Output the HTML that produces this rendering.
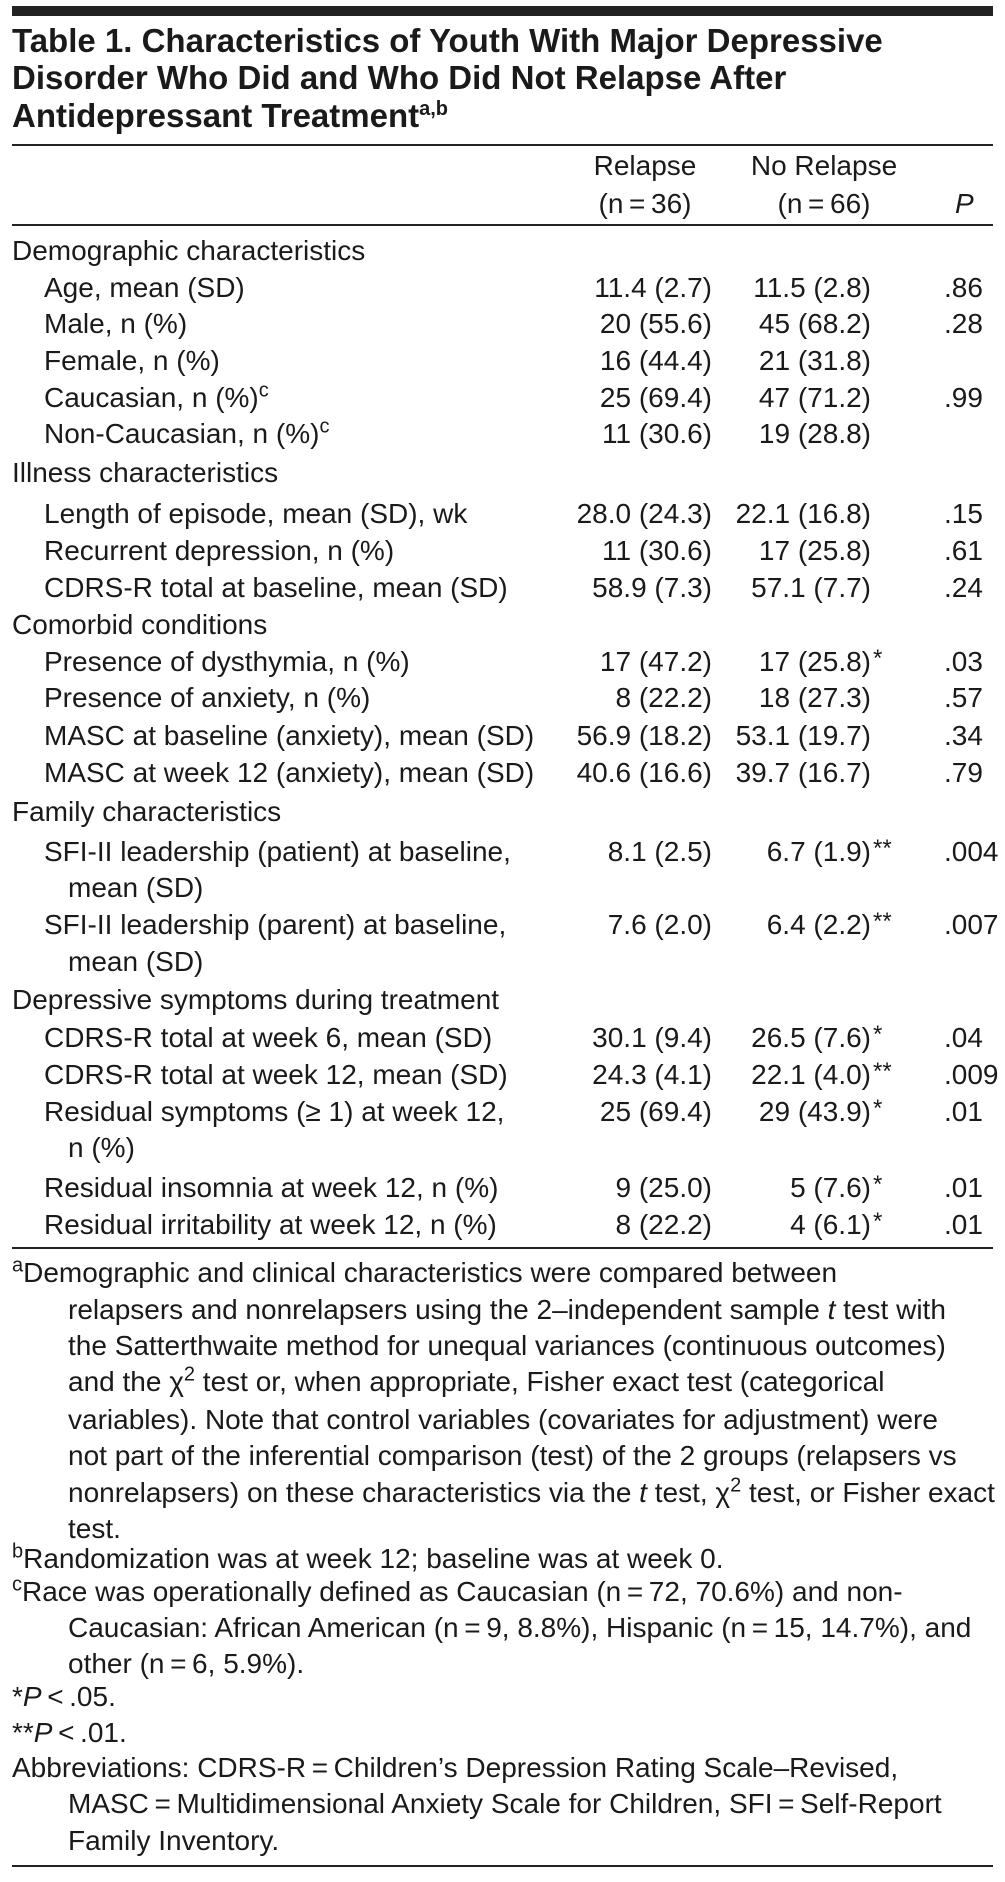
<!DOCTYPE html>
<html><head><meta charset="utf-8">
<style>
html,body{margin:0;padding:0;background:#fff}
body{width:1005px;height:1882px;position:relative;overflow:hidden;font-family:"Liberation Sans",sans-serif;color:#1a1a1a}
.ln{position:absolute;height:36px;line-height:36px;font-size:28px;white-space:nowrap}
.t{display:inline-block;transform:scaleX(1);transform-origin:left center}
.tr{display:inline-block;transform:scaleX(1);transform-origin:right center}
.tc{display:inline-block;transform:scaleX(1);transform-origin:center center}
.ttl{position:absolute;left:12px;height:38px;line-height:38px;font-size:33px;font-weight:bold;white-space:nowrap}
.rule{position:absolute;left:12px;width:981px;background:#222}
.v1{right:293px}
.v2{right:134px}
.p{left:944px}
.star{position:absolute;left:100%;top:-3px;font-size:24px;padding-left:2px}
sup{font-size:20px;line-height:0}
</style></head>
<body>
<div class="rule" style="top:6px;height:10px"></div>
<div class="ttl" style="top:22px"><span class="t">Table 1. Characteristics of Youth With Major Depressive</span></div>
<div class="ttl" style="top:59px"><span class="t">Disorder Who Did and Who Did Not Relapse After</span></div>
<div class="ttl" style="top:97px"><span class="t">Antidepressant Treatment<sup>a,b</sup></span></div>
<div class="rule" style="top:144px;height:2px"></div>

<div class="ln" style="top:148px;left:545px;width:200px;text-align:center"><span class="tc">Relapse</span></div>
<div class="ln" style="top:186px;left:545px;width:200px;text-align:center"><span class="tc">(n&#8201;=&#8201;36)</span></div>
<div class="ln" style="top:148px;left:724px;width:200px;text-align:center"><span class="tc">No Relapse</span></div>
<div class="ln" style="top:186px;left:724px;width:200px;text-align:center"><span class="tc">(n&#8201;=&#8201;66)</span></div>
<div class="ln" style="top:186px;left:955px;font-style:italic"><span class="t">P</span></div>
<div class="rule" style="top:224px;height:2px"></div>

<div id="rows"></div>
<script>
var rows=[
[233,0,"Demographic characteristics","","","",""],
[270,1,"Age, mean (SD)","11.4 (2.7)","11.5 (2.8)","",".86"],
[306,1,"Male, n (%)","20 (55.6)","45 (68.2)","",".28"],
[343,1,"Female, n (%)","16 (44.4)","21 (31.8)","",""],
[380,1,"Caucasian, n (%)<sup>c</sup>","25 (69.4)","47 (71.2)","",".99"],
[416,1,"Non-Caucasian, n (%)<sup>c</sup>","11 (30.6)","19 (28.8)","",""],
[455,0,"Illness characteristics","","","",""],
[496,1,"Length of episode, mean (SD), wk","28.0 (24.3)","22.1 (16.8)","",".15"],
[533,1,"Recurrent depression, n (%)","11 (30.6)","17 (25.8)","",".61"],
[570,1,"CDRS-R total at baseline, mean (SD)","58.9 (7.3)","57.1 (7.7)","",".24"],
[607,0,"Comorbid conditions","","","",""],
[644,1,"Presence of dysthymia, n (%)","17 (47.2)","17 (25.8)","*",".03"],
[680,1,"Presence of anxiety, n (%)","8 (22.2)","18 (27.3)","",".57"],
[718,1,"MASC at baseline (anxiety), mean (SD)","56.9 (18.2)","53.1 (19.7)","",".34"],
[755,1,"MASC at week 12 (anxiety), mean (SD)","40.6 (16.6)","39.7 (16.7)","",".79"],
[794,0,"Family characteristics","","","",""],
[834,1,"SFI-II leadership (patient) at baseline,","8.1 (2.5)","6.7 (1.9)","**",".004"],
[870,2,"mean (SD)","","","",""],
[907,1,"SFI-II leadership (parent) at baseline,","7.6 (2.0)","6.4 (2.2)","**",".007"],
[944,2,"mean (SD)","","","",""],
[982,0,"Depressive symptoms during treatment","","","",""],
[1020,1,"CDRS-R total at week 6, mean (SD)","30.1 (9.4)","26.5 (7.6)","*",".04"],
[1057,1,"CDRS-R total at week 12, mean (SD)","24.3 (4.1)","22.1 (4.0)","**",".009"],
[1094,1,"Residual symptoms (≥ 1) at week 12,","25 (69.4)","29 (43.9)","*",".01"],
[1130,2,"n (%)","","","",""],
[1170,1,"Residual insomnia at week 12, n (%)","9 (25.0)","5 (7.6)","*",".01"],
[1207,1,"Residual irritability at week 12, n (%)","8 (22.2)","4 (6.1)","*",".01"]
];
var indents=[12,44,68];
var host=document.getElementById('rows');
rows.forEach(function(r,i){
  var d=document.createElement('div');d.className='ln';d.style.top=r[0]+'px';d.style.left=indents[r[1]]+'px';
  d.innerHTML='<span class="t">'+r[2]+'</span>';
  
  
  host.appendChild(d);
  if(r[3]){
    var a=document.createElement('div');a.className='ln v1';a.style.top=r[0]+'px';a.innerHTML='<span class="tr">'+r[3]+'</span>';
    
    
    host.appendChild(a);
    var b=document.createElement('div');b.className='ln v2';b.style.top=r[0]+'px';b.innerHTML='<span class="tr" style="position:relative">'+r[4]+(r[5]?'<span class="star">'+r[5]+'</span>':'')+'</span>';
    
    
    host.appendChild(b);
  }
  if(r[6]){
    var p=document.createElement('div');p.className='ln p';p.style.top=r[0]+'px';p.innerHTML='<span class="t">'+r[6]+'</span>';
    
    
    host.appendChild(p);
  }
});
</script>
<div class="rule" style="top:1247px;height:2px"></div>

<div class="ln" style="top:1255px;left:12px"><span class="t"><sup>a</sup>Demographic and clinical characteristics were compared between</span></div>
<div class="ln" style="top:1292px;left:68px"><span class="t">relapsers and nonrelapsers using the 2–independent sample <i>t</i> test with</span></div>
<div class="ln" style="top:1328px;left:68px"><span class="t">the Satterthwaite method for unequal variances (continuous outcomes)</span></div>
<div class="ln" style="top:1364px;left:68px"><span class="t">and the χ<sup>2</sup> test or, when appropriate, Fisher exact test (categorical</span></div>
<div class="ln" style="top:1402px;left:68px"><span class="t">variables). Note that control variables (covariates for adjustment) were</span></div>
<div class="ln" style="top:1438px;left:68px"><span class="t">not part of the inferential comparison (test) of the 2 groups (relapsers vs</span></div>
<div class="ln" style="top:1475px;left:68px"><span class="t">nonrelapsers) on these characteristics via the <i>t</i> test, χ<sup>2</sup> test, or Fisher exact</span></div>
<div class="ln" style="top:1511px;left:68px"><span class="t">test.</span></div>
<div class="ln" style="top:1541px;left:12px"><span class="t"><sup>b</sup>Randomization was at week 12; baseline was at week 0.</span></div>
<div class="ln" style="top:1574px;left:12px"><span class="t"><sup>c</sup>Race was operationally defined as Caucasian (n&#8201;=&#8201;72, 70.6%) and non-</span></div>
<div class="ln" style="top:1610px;left:68px"><span class="t">Caucasian: African American (n&#8201;=&#8201;9, 8.8%), Hispanic (n&#8201;=&#8201;15, 14.7%), and</span></div>
<div class="ln" style="top:1646px;left:68px"><span class="t">other (n&#8201;=&#8201;6, 5.9%).</span></div>
<div class="ln" style="top:1679px;left:12px"><span class="t">*<i>P</i>&#8201;&lt;&#8201;.05.</span></div>
<div class="ln" style="top:1715px;left:12px"><span class="t">**<i>P</i>&#8201;&lt;&#8201;.01.</span></div>
<div class="ln" style="top:1750px;left:12px"><span class="t">Abbreviations: CDRS-R&#8201;=&#8201;Children’s Depression Rating Scale–Revised,</span></div>
<div class="ln" style="top:1786px;left:68px"><span class="t">MASC&#8201;=&#8201;Multidimensional Anxiety Scale for Children, SFI&#8201;=&#8201;Self-Report</span></div>
<div class="ln" style="top:1823px;left:68px"><span class="t">Family Inventory.</span></div>
<div class="rule" style="top:1865px;height:2px"></div>
</body></html>
